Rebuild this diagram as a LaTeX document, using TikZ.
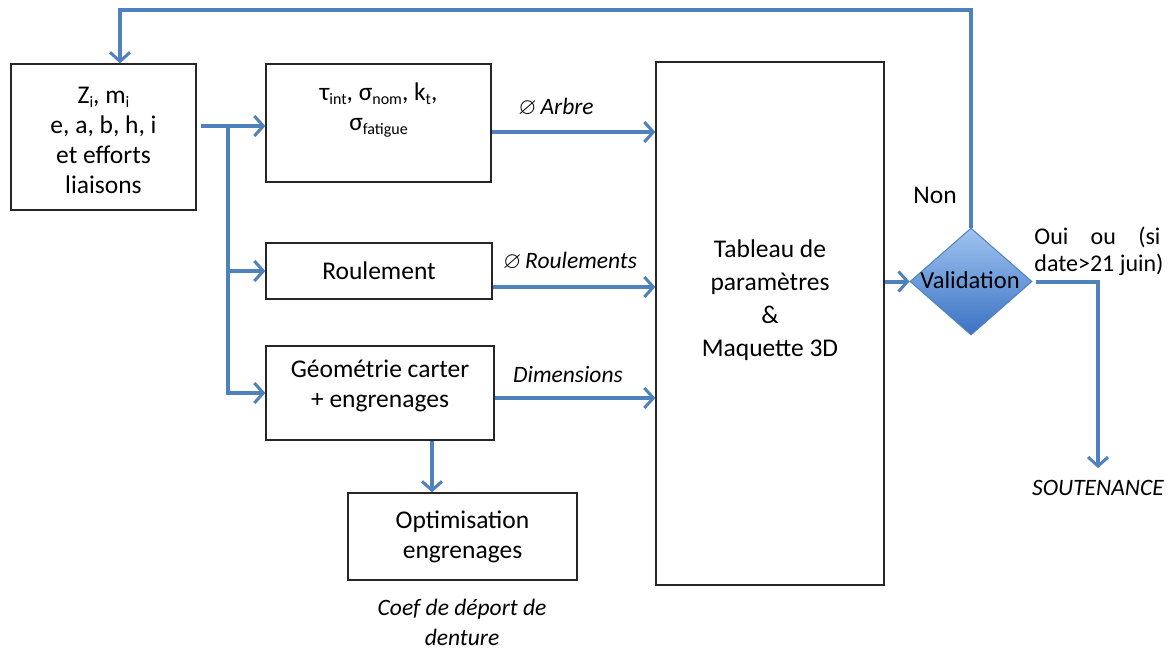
\documentclass[tikz,border=0pt]{standalone}
\usepackage{amssymb}
\usepackage{fontspec}
\setmainfont{Carlito}
\usetikzlibrary{shapes.geometric,arrows.meta}
\definecolor{ablue}{RGB}{79,129,189}
\definecolor{dtop}{RGB}{160,196,240}
\definecolor{dbot}{RGB}{58,114,196}
\newcommand\lsub[1]{\raisebox{-0.35ex}{\fontsize{16}{16}\selectfont #1}}
\begin{document}
\begin{tikzpicture}[x=1pt,y=-1pt,
  box/.style={draw=black!85,line width=1.3pt,rectangle,inner sep=0pt},
  txt/.style={font=\fontsize{25.5}{30}\selectfont,align=center,inner sep=0pt},
  lab/.style={font=\fontsize{23.5}{28}\selectfont\itshape,inner sep=0pt},
  arr/.style={draw=ablue,line width=4pt,-{Straight Barb[length=9pt,width=20pt,line width=3pt]}},
  ln/.style={draw=ablue,line width=4pt}]
\useasboundingbox (0,0) rectangle (1174,650);
\fill[white] (0,0) rectangle (1174,650);
% boxes
\node[box,minimum width=185pt,minimum height=146pt] (in) at (103.5,137) {};
\node[txt] (intxt) at (103.5,140) {Z\lsub{i}, m\lsub{i}\\e, a, b, h, i\\et efforts\\liaisons};
\node[box,minimum width=225pt,minimum height=118pt] (tau) at (378.5,123) {};
\node[txt] (tautxt) at (378.5,110) {τ\lsub{int}, σ\lsub{nom}, k\lsub{t},\\σ\lsub{fatigue}};
\node[box,minimum width=226pt,minimum height=56pt,txt] (roul) at (379,271) {Roulement};
\node[box,minimum width=228pt,minimum height=94pt] (geom) at (380,393) {};
\node[txt] (geomtxt) at (380,386) {Géométrie carter\\+ engrenages};
\node[box,minimum width=229pt,minimum height=87pt] (opt) at (462.5,536.5) {};
\node[txt] (opttxt) at (462.5,537) {Optimisation\\engrenages};
\node[box,minimum width=228pt,minimum height=523pt] (tab) at (770,323.5) {};
\node[txt,font=\fontsize{25.5}{33}\selectfont] (tabtxt) at (770,300) {Tableau de\\paramètres\\\&\\Maquette 3D};
\node[diamond,draw=ablue,line width=1pt,top color=dtop,bottom color=dbot,minimum width=122pt,minimum height=107pt,inner sep=0pt] (val) at (971,281.5) {};
\node[txt,font=\fontsize{24.5}{30}\selectfont] (valtxt) at (970,280) {Validation};
% labels
\node[lab] (larbre) at (556,107) {$\varnothing$\,Arbre};
\node[lab] (lroul) at (570,261) {$\varnothing$\,Roulements};
\node[lab] (ldim) at (568,374) {Dimensions};
\node[txt] (lnon) at (935,195) {Non};
\node[txt,align=left,font=\fontsize{24}{27}\selectfont] (loui) at (1099,251) {\hbox to 126pt{Oui\hfill ou\hfill (si}\\date>21 juin)};
\node[lab] (sout) at (1098,488) {SOUTENANCE};
\node[lab,align=center,font=\fontsize{23.5}{30}\selectfont\itshape] (lcoef) at (462,622) {Coef de déport de\\denture};
% connectors
\coordinate (br) at (228,126);
\draw[arr] ([xshift=4pt,yshift=11pt]in.east) -- (tau.west |- br);
\draw[ln] (br) -- (br |- geom.west);
\draw[arr] (br) |- (roul.west);
\draw[arr] (br) |- (geom.west);
\draw[arr] ([yshift=-9pt]tau.east) -- ([yshift=-9pt]tau.east -| tab.west);
\draw[arr] ([yshift=-16pt]roul.east) -- ([yshift=-16pt]roul.east -| tab.west);
\draw[arr] ([yshift=-5pt]geom.east) -- ([yshift=-5pt]geom.east -| tab.west);
\draw[arr] ([xshift=52pt]geom.south) -- ([xshift=52pt]geom.south |- opt.north);
\draw[arr] (tab.east |- val.west) -- (val.west);
\coordinate (top) at (120,10);
\draw[arr] (val.north) |- (top) -- ([xshift=16.5pt]in.north);
\draw[arr] ([xshift=3pt]val.east) -| ([yshift=12pt]sout.north);
\end{tikzpicture}
\end{document}
